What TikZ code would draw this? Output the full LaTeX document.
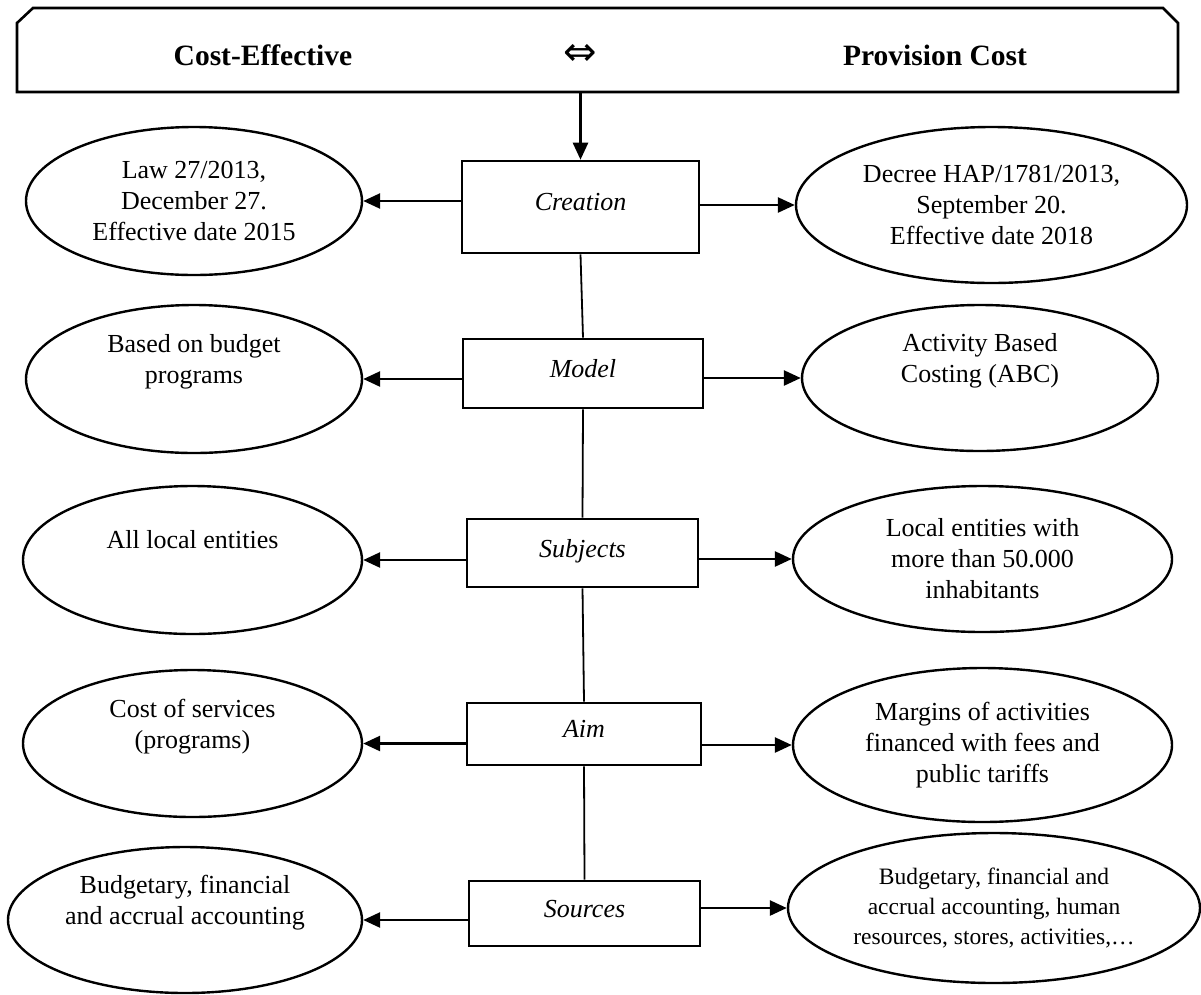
\documentclass[tikz,border=0pt]{standalone}
\usepackage{fontspec}
\setmainfont{Liberation Serif}
\newfontfamily\symfont{DejaVu Sans}
\usetikzlibrary{shapes.geometric,arrows.meta}

\begin{document}
\begin{tikzpicture}
[x=1pt,y=-1pt, % 1 px = 1 pt
bar/.style={draw, line width=2.6pt, line join=miter}, % top bar
headtxt/.style={font=\fontsize{29.5}{35}\selectfont\bfseries},
field/.style={draw, line width=2.6pt, rectangle, inner sep=0pt, text depth=10pt, font=\fontsize{26}{31}\selectfont\itshape}, % middle column
oval/.style={draw, line width=2.4pt, ellipse, inner sep=0pt, align=center, font=\fontsize{26}{31}\selectfont}, % side columns
arr/.style={line width=2.6pt, -{Triangle[length=17pt,width=15pt]}},
link/.style={line width=1.8pt}
]
\useasboundingbox (0,0) rectangle (1201,994);

% top bar
\draw[bar] (17,92) -- (17,23) -- (33,8) -- (1163,8) -- (1178,23) -- (1178,92) -- cycle;
\coordinate (head) at (581,92);
\node[headtxt] (ce) at (263,55) {Cost-Effective};
\node[headtxt] (eq) at (580,55) {\symfont\mdseries\fontsize{40}{40}\selectfont ⇔};
\node[headtxt] (pc) at (935,55) {Provision Cost};

% middle column
\node[field, minimum width=237pt, minimum height=92pt] (creation) at (580.5,207) {Creation};
\node[field, minimum width=240pt, minimum height=69pt] (model) at (583,373.5) {Model};
\node[field, minimum width=231pt, minimum height=68pt] (subjects) at (582.5,553) {Subjects};
\node[field, minimum width=234pt, minimum height=62pt] (aim) at (584,734) {Aim};
\node[field, minimum width=231pt, minimum height=65pt] (sources) at (584.5,913.5) {Sources};

% left column
\node[oval, minimum width=336pt, minimum height=148pt] (ceLaw) at (194,201) {Law 27/2013,\\December 27.\\Effective date 2015};
\node[oval, minimum width=336pt, minimum height=148pt] (ceModel) at (194,379) {Based on budget\\programs\\\strut};
\node[oval, minimum width=339pt, minimum height=148pt] (ceSubj) at (192.5,560) {All local entities\\\strut};
\node[oval, minimum width=339pt, minimum height=147pt] (ceAim) at (192.5,743.5) {Cost of services\\(programs)\\\strut};
\node[oval, minimum width=354pt, minimum height=146pt] (ceSrc) at (185,920) {Budgetary, financial\\and accrual accounting\\\strut};

% right column
\node[oval, minimum width=391pt, minimum height=156pt] (pcLaw) at (991.5,205) {Decree HAP/1781/2013,\\September 20.\\Effective date 2018};
\node[oval, minimum width=356pt, minimum height=146pt] (pcModel) at (980,378) {Activity Based\\Costing (ABC)\\\strut};
\node[oval, minimum width=379pt, minimum height=146pt] (pcSubj) at (982.5,559) {Local entities with\\more than 50.000\\inhabitants};
\node[oval, minimum width=379pt, minimum height=154pt] (pcAim) at (982.5,745) {Margins of activities\\financed with fees and\\public tariffs};
\node[oval, minimum width=412pt, minimum height=150pt, font=\fontsize{23.5}{30}\selectfont] (pcSrc) at (994,908) {Budgetary, financial and\\accrual accounting, human\\resources, stores, activities,…};

% connectors
\draw[arr] (head -| creation.north) -- (creation.north);
\draw[link] (creation.south) -- (model.north);
\draw[link] (model.south) -- (subjects.north);
\draw[link] (subjects.south) -- (aim.north);
\draw[link] (aim.south) -- (sources.north);

\draw[arr] (creation.west |- ceLaw.east) -- (ceLaw.east);
\draw[arr] (model.west |- ceModel.east) -- (ceModel.east);
\draw[arr] (subjects.west |- ceSubj.east) -- (ceSubj.east);
\draw[arr] (aim.west |- ceAim.east) -- (ceAim.east);
\draw[arr] (sources.west |- ceSrc.east) -- (ceSrc.east);

\draw[arr] (creation.east |- pcLaw.west) -- (pcLaw.west);
\draw[arr] (model.east |- pcModel.west) -- (pcModel.west);
\draw[arr] (subjects.east |- pcSubj.west) -- (pcSubj.west);
\draw[arr] (aim.east |- pcAim.west) -- (pcAim.west);
\draw[arr] (sources.east |- pcSrc.west) -- (pcSrc.west);
\end{tikzpicture}
\end{document}
